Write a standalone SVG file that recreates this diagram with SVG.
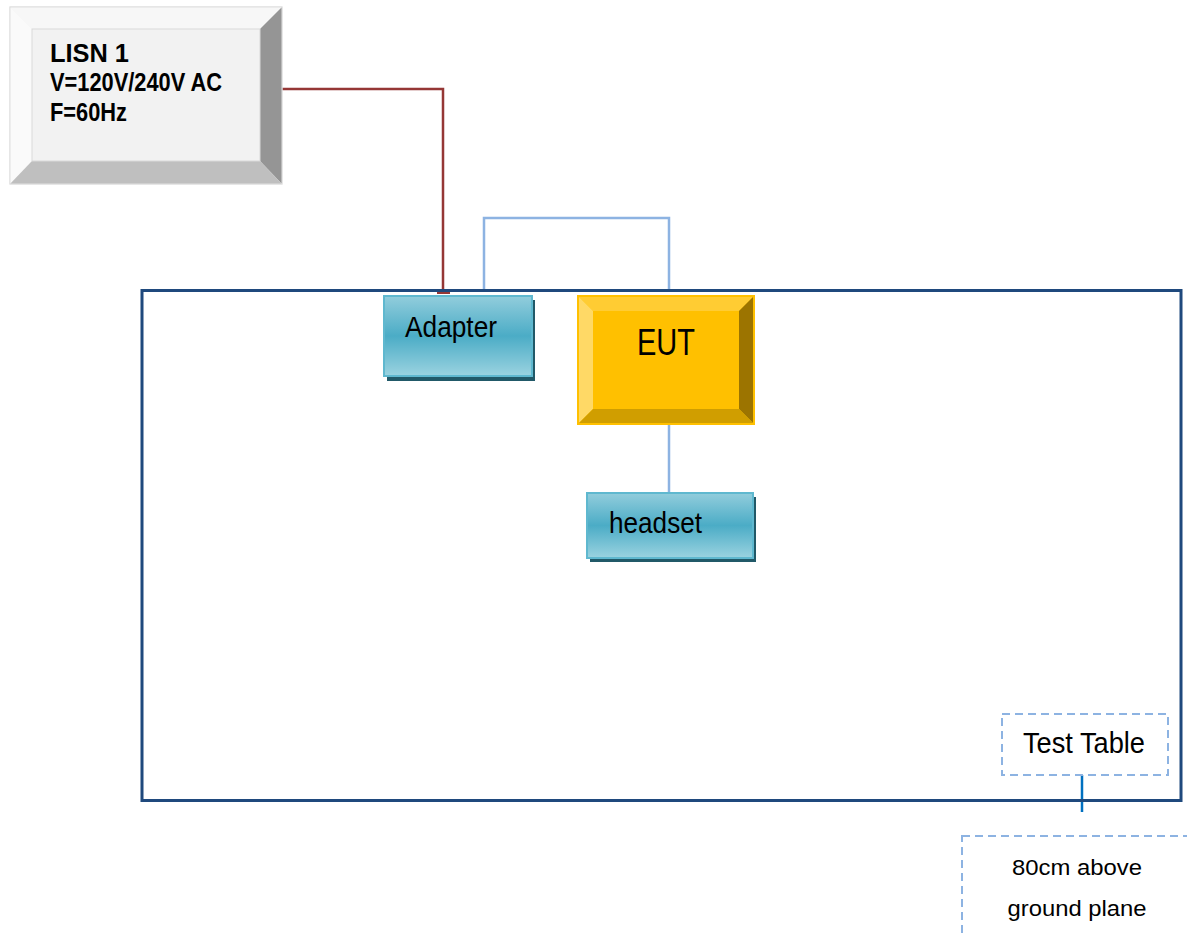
<svg xmlns="http://www.w3.org/2000/svg" width="1187" height="935" viewBox="0 0 1187 935">
<style>
text{font-family:"Liberation Sans",Arial,sans-serif;fill:#000}
.lisn{font-size:26px;font-weight:bold}
.dev{font-size:30px}
.dash{fill:none;stroke:#8DB3E2;stroke-width:2;stroke-dasharray:8,5}
.blue{fill:none;stroke:#8DB3E2;stroke-width:2.5}
</style>
<defs>
<linearGradient id="teal" x1="0" y1="0" x2="0" y2="1">
<stop offset="0" stop-color="#92CDDC"/>
<stop offset="0.5" stop-color="#4BACC6"/>
<stop offset="1" stop-color="#9BD3E0"/>
</linearGradient>
</defs>
<rect x="0" y="0" width="1187" height="935" fill="#fff"/>
<g id="connectors">
<polyline points="282,89 443,89 443,292" fill="none" stroke="#953735" stroke-width="2.5"/>
<rect x="437" y="289" width="13" height="5" fill="#953735"/>
<polyline class="blue" points="484,292 484,218 669,218 669,292"/>
<line class="blue" x1="669" y1="424" x2="669" y2="493"/>
<line x1="1082" y1="775" x2="1082" y2="812" stroke="#0070C0" stroke-width="2.5"/>
</g>
<g id="test-table">
<rect x="142" y="290.5" width="1039" height="510" fill="none" stroke="#1F497D" stroke-width="3"/>
</g>
<g id="lisn">
<rect x="10" y="7" width="272" height="177" fill="#F2F2F2" stroke="#D9D9D9" stroke-width="1"/>
<polygon points="10,7 282,7 260,29 32,29" fill="#F7F7F7"/>
<polygon points="10,7 32,29 32,161 10,184" fill="#FAFAFA"/>
<polygon points="282,7 282,184 260,161 260,29" fill="#959595"/>
<polygon points="10,184 282,184 260,161 32,161" fill="#BFBFBF"/>
<rect x="32" y="29" width="228" height="132" fill="#F2F2F2" stroke="#D9D9D9" stroke-width="1"/>
<rect x="10" y="7" width="272" height="177" fill="none" stroke="#E0E0E0" stroke-width="1"/>
<text class="lisn" x="50" y="62" textLength="79" lengthAdjust="spacingAndGlyphs">LISN 1</text>
<text class="lisn" x="50" y="91" textLength="172" lengthAdjust="spacingAndGlyphs">V=120V/240V AC</text>
<text class="lisn" x="50" y="121" textLength="77" lengthAdjust="spacingAndGlyphs">F=60Hz</text>
</g>
<g id="adapter">
<rect x="387" y="300" width="148" height="81" fill="#215968"/>
<rect x="384" y="296" width="148" height="80" fill="url(#teal)" stroke="#5FB8CF" stroke-width="2"/>
<text class="dev" x="405" y="337" textLength="92" lengthAdjust="spacingAndGlyphs">Adapter</text>
</g>
<g id="eut">
<rect x="578" y="296" width="176" height="128" fill="#FFC000"/>
<polygon points="578,296 754,296 739,311 593,311" fill="#FFCC33"/>
<polygon points="578,296 593,311 593,409 578,424" fill="#FFD966"/>
<polygon points="754,296 754,424 739,409 739,311" fill="#9C7400"/>
<polygon points="578,424 754,424 739,409 593,409" fill="#D09E00"/>
<rect x="578" y="296" width="176" height="128" fill="none" stroke="#FFC000" stroke-width="2"/>
<text x="666" y="355" style="font-size:37px" text-anchor="middle" textLength="58" lengthAdjust="spacingAndGlyphs">EUT</text>
</g>
<g id="headset">
<rect x="590" y="497" width="166" height="65" fill="#215968"/>
<rect x="587" y="493" width="166" height="65" fill="url(#teal)" stroke="#5FB8CF" stroke-width="2"/>
<text class="dev" x="609" y="533" textLength="93" lengthAdjust="spacingAndGlyphs">headset</text>
</g>
<g id="test-table-label">
<rect class="dash" x="1002" y="714" width="166" height="61"/>
<text class="dev" x="1023" y="753" textLength="122" lengthAdjust="spacingAndGlyphs">Test Table</text>
</g>
<g id="height-note">
<rect class="dash" x="962" y="836" width="260" height="120"/>
<text x="1077" y="875" text-anchor="middle" style="font-size:22px" textLength="130" lengthAdjust="spacingAndGlyphs">80cm above</text>
<text x="1077" y="916" text-anchor="middle" style="font-size:22px" textLength="139" lengthAdjust="spacingAndGlyphs">ground plane</text>
</g>
</svg>
